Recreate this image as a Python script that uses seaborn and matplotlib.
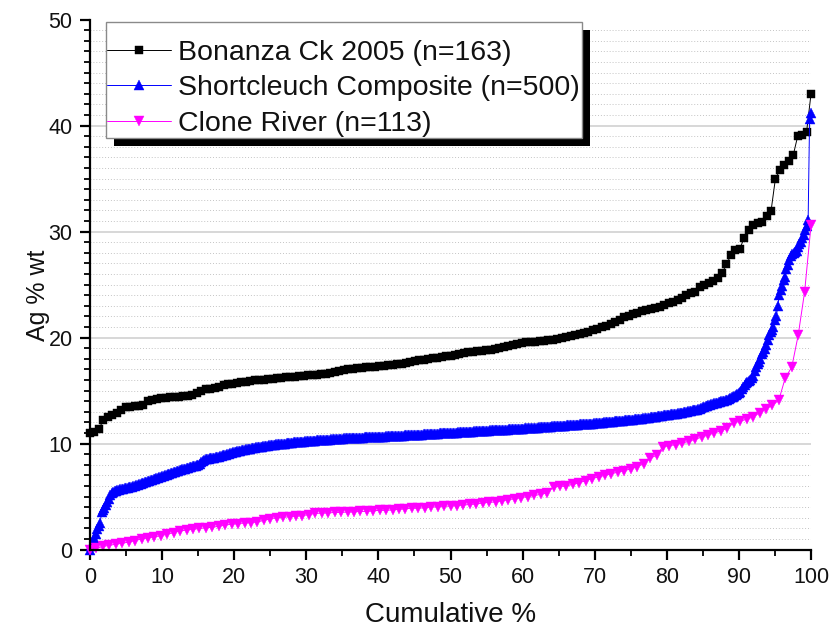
import numpy as np
import pandas as pd
import matplotlib
matplotlib.use("Agg")
import matplotlib.pyplot as plt
import seaborn as sns
from matplotlib.patches import Rectangle
from matplotlib.transforms import IdentityTransform
from matplotlib.ticker import MultipleLocator

# Sorted Ag content (wt %) of each gold population
series_names = ["Bonanza Ck 2005 (n=163)",
                "Shortcleuch Composite (n=500)",
                "Clone River (n=113)"]

bonanza = [
    11.0, 11.1, 11.4, 12.2, 12.5, 12.7, 12.9, 13.2, 13.4, 13.45,
    13.5, 13.55, 13.6, 14.0, 14.1, 14.2, 14.25, 14.3, 14.35, 14.4,
    14.4, 14.45, 14.5, 14.6, 14.8, 15.0, 15.1, 15.15, 15.2, 15.3,
    15.5, 15.6, 15.65, 15.7, 15.8, 15.85, 15.9, 15.95, 16.0, 16.0,
    16.05, 16.1, 16.15, 16.2, 16.25, 16.3, 16.3, 16.35, 16.4, 16.45,
    16.5, 16.5, 16.55, 16.6, 16.65, 16.75, 16.85, 16.9, 17.0, 17.05,
    17.1, 17.15, 17.2, 17.2, 17.25, 17.3, 17.35, 17.4, 17.45, 17.5,
    17.55, 17.6, 17.65, 17.75, 17.85, 17.9, 18.0, 18.05, 18.1, 18.2,
    18.25, 18.3, 18.35, 18.4, 18.5, 18.6, 18.65, 18.7, 18.75, 18.8,
    18.85, 18.9, 19.0, 19.1, 19.2, 19.3, 19.4, 19.5, 19.55, 19.6,
    19.6, 19.65, 19.7, 19.75, 19.8, 19.85, 19.95, 20.05, 20.15, 20.25,
    20.35, 20.45, 20.55, 20.7, 20.85, 21.0, 21.1, 21.3, 21.5, 21.7,
    21.9, 22.05, 22.2, 22.35, 22.5, 22.6, 22.65, 22.75, 22.9, 23.1,
    23.25, 23.4, 23.5, 23.7, 24.0, 24.2, 24.3, 24.8, 25.0, 25.1,
    25.3, 25.6, 26.1, 26.9, 27.8, 28.3, 28.4, 29.4, 30.1, 30.6,
    30.8, 30.9, 31.5, 31.9, 35.0, 35.8, 36.3, 36.7, 37.2, 39.0,
    39.1, 39.4, 43.0,
]

shortcleuch = [
    0.0, 0.3, 0.7, 1.1, 1.5, 1.9, 2.2, 2.5, 3.5, 3.7,
    3.9, 4.2, 4.5, 4.8, 5.1, 5.3, 5.4, 5.5, 5.55, 5.6,
    5.65, 5.68, 5.71, 5.74, 5.77, 5.8, 5.83, 5.86, 5.89, 5.92,
    5.95, 6.0, 6.05, 6.1, 6.15, 6.2, 6.25, 6.3, 6.35, 6.4,
    6.45, 6.5, 6.55, 6.6, 6.65, 6.7, 6.74, 6.78, 6.82, 6.86,
    6.9, 6.95, 7.0, 7.05, 7.1, 7.15, 7.2, 7.25, 7.3, 7.35,
    7.4, 7.44, 7.48, 7.52, 7.56, 7.6, 7.64, 7.68, 7.72, 7.76,
    7.8, 7.84, 7.88, 7.92, 7.96, 8.0, 8.1, 8.25, 8.35, 8.45,
    8.5, 8.53, 8.56, 8.59, 8.62, 8.65, 8.68, 8.71, 8.74, 8.77,
    8.8, 8.84, 8.88, 8.92, 8.96, 9.0, 9.04, 9.08, 9.12, 9.16,
    9.2, 9.23, 9.26, 9.29, 9.32, 9.35, 9.38, 9.41, 9.44, 9.47,
    9.5, 9.53, 9.56, 9.59, 9.62, 9.64, 9.66, 9.68, 9.7, 9.72,
    9.74, 9.76, 9.78, 9.8, 9.82, 9.84, 9.86, 9.88, 9.9, 9.92,
    9.94, 9.96, 9.97, 9.98, 9.99, 10.0, 10.02, 10.04, 10.06, 10.08,
    10.09, 10.1, 10.11, 10.12, 10.13, 10.14, 10.15, 10.16, 10.18, 10.2,
    10.21, 10.22, 10.24, 10.25, 10.26, 10.27, 10.28, 10.29, 10.3, 10.31,
    10.32, 10.33, 10.34, 10.35, 10.36, 10.37, 10.38, 10.39, 10.4, 10.41,
    10.42, 10.43, 10.44, 10.45, 10.46, 10.47, 10.48, 10.48, 10.49, 10.5,
    10.5, 10.51, 10.52, 10.52, 10.53, 10.54, 10.54, 10.55, 10.56, 10.56,
    10.57, 10.58, 10.58, 10.59, 10.6, 10.6, 10.61, 10.62, 10.62, 10.63,
    10.64, 10.64, 10.65, 10.66, 10.66, 10.67, 10.68, 10.68, 10.69, 10.7,
    10.7, 10.71, 10.72, 10.72, 10.73, 10.74, 10.74, 10.75, 10.76, 10.76,
    10.77, 10.78, 10.79, 10.8, 10.8, 10.81, 10.82, 10.83, 10.84, 10.84,
    10.85, 10.86, 10.87, 10.88, 10.88, 10.89, 10.9, 10.91, 10.92, 10.92,
    10.93, 10.94, 10.95, 10.96, 10.96, 10.97, 10.98, 10.99, 11.0, 11.0,
    11.01, 11.02, 11.03, 11.04, 11.04, 11.05, 11.06, 11.07, 11.08, 11.08,
    11.09, 11.1, 11.11, 11.12, 11.12, 11.13, 11.14, 11.15, 11.16, 11.16,
    11.17, 11.18, 11.19, 11.2, 11.2, 11.21, 11.22, 11.23, 11.24, 11.24,
    11.25, 11.26, 11.27, 11.28, 11.28, 11.29, 11.3, 11.31, 11.32, 11.32,
    11.33, 11.34, 11.35, 11.36, 11.36, 11.37, 11.38, 11.39, 11.4, 11.4,
    11.41, 11.42, 11.43, 11.44, 11.45, 11.46, 11.47, 11.48, 11.49, 11.5,
    11.51, 11.52, 11.53, 11.54, 11.55, 11.56, 11.57, 11.58, 11.59, 11.6,
    11.61, 11.62, 11.63, 11.64, 11.65, 11.66, 11.67, 11.68, 11.69, 11.7,
    11.71, 11.72, 11.73, 11.74, 11.75, 11.76, 11.77, 11.78, 11.79, 11.8,
    11.81, 11.82, 11.83, 11.84, 11.85, 11.86, 11.87, 11.88, 11.89, 11.9,
    11.91, 11.92, 11.94, 11.95, 11.96, 11.98, 11.99, 12.0, 12.02, 12.03,
    12.04, 12.06, 12.07, 12.08, 12.1, 12.11, 12.12, 12.14, 12.15, 12.16,
    12.18, 12.19, 12.2, 12.22, 12.23, 12.24, 12.26, 12.27, 12.28, 12.3,
    12.31, 12.33, 12.35, 12.37, 12.39, 12.41, 12.43, 12.45, 12.47, 12.49,
    12.51, 12.53, 12.55, 12.57, 12.59, 12.61, 12.63, 12.65, 12.67, 12.69,
    12.71, 12.73, 12.75, 12.77, 12.79, 12.81, 12.83, 12.85, 12.87, 12.89,
    12.91, 12.94, 12.97, 13.0, 13.03, 13.06, 13.09, 13.12, 13.15, 13.18,
    13.21, 13.25, 13.3, 13.35, 13.4, 13.45, 13.5, 13.55, 13.6, 13.65,
    13.7, 13.74, 13.78, 13.82, 13.86, 13.9, 13.94, 13.98, 14.02, 14.06,
    14.1, 14.15, 14.2, 14.3, 14.35, 14.4, 14.5, 14.6, 14.7, 14.8,
    14.9, 15.1, 15.3, 15.5, 15.7, 15.8, 15.9, 16.0, 16.2, 16.4,
    16.8, 17.2, 17.5, 17.7, 18.0, 18.4, 18.6, 18.9, 19.3, 19.8,
    20.2, 20.5, 20.7, 21.0, 21.7, 22.0, 23.0, 24.0, 24.5, 24.9,
    25.4, 25.7, 26.5, 26.8, 27.3, 27.7, 27.9, 28.0, 28.1, 28.2,
    28.5, 28.8, 29.0, 29.4, 29.7, 30.1, 30.5, 31.1, 40.6, 41.2,
]

clone_river = [
    0.0, 0.1, 0.3, 0.4, 0.5, 0.6, 0.7, 0.85, 1.0, 1.1,
    1.2, 1.3, 1.45, 1.6, 1.75, 1.85, 1.9, 2.0, 2.05, 2.1,
    2.2, 2.3, 2.4, 2.45, 2.5, 2.55, 2.6, 2.75, 2.9, 3.0,
    3.05, 3.1, 3.15, 3.2, 3.3, 3.4, 3.45, 3.45, 3.5, 3.5,
    3.55, 3.55, 3.6, 3.6, 3.65, 3.7, 3.7, 3.75, 3.8, 3.85,
    3.9, 3.9, 3.95, 4.0, 4.05, 4.1, 4.1, 4.15, 4.2, 4.25,
    4.3, 4.4, 4.45, 4.5, 4.6, 4.7, 4.8, 4.9, 5.0, 5.1,
    5.2, 5.35, 5.9, 5.95, 6.0, 6.15, 6.3, 6.5, 6.7, 6.85,
    7.0, 7.15, 7.3, 7.45, 7.6, 7.8, 8.1, 8.6, 8.9, 9.7,
    9.8, 9.9, 10.05, 10.2, 10.4, 10.6, 10.8, 11.0, 11.2, 11.45,
    11.95, 12.1, 12.3, 12.5, 12.9, 13.3, 13.6, 14.1, 16.2, 17.2,
    20.2, 24.3, 30.6,
]

series_values = [bonanza, shortcleuch, clone_river]
series_colors = ["#000000", "#0000FF", "#FF00FF"]
series_markers = ["s", "^", "v"]
marker_sizes = [5.2, 7.0, 6.8]

x_ticks_major, x_ticks_minor = 10, 5
y_ticks_major, y_ticks_minor = 10, 1

sns.set_theme(style="white")
plt.rcParams["font.family"] = ["Liberation Sans", "DejaVu Sans"]

fig = plt.figure(figsize=(8.32, 6.35), dpi=100)
ax = fig.add_axes([0.1082, 0.1346, 0.8666, 0.8346])

for name, vals, col, mk, ms in zip(series_names, series_values,
                                   series_colors, series_markers, marker_sizes):
    n = len(vals)
    frame = pd.DataFrame({
        "Cumulative %": np.arange(n) / (n - 1) * 100.0,
        "Ag % wt": vals,
    })
    sns.lineplot(data=frame, x="Cumulative %", y="Ag % wt", ax=ax,
                 color=col, linewidth=0.7, marker=mk, markersize=ms,
                 markeredgecolor=col, markeredgewidth=0.3,
                 estimator=None, sort=False, label=name, clip_on=False)

ax.set_xlim(0, 100)
ax.set_ylim(0, 50)
ax.xaxis.set_major_locator(MultipleLocator(x_ticks_major))
ax.xaxis.set_minor_locator(MultipleLocator(x_ticks_minor))
ax.yaxis.set_major_locator(MultipleLocator(y_ticks_major))
ax.yaxis.set_minor_locator(MultipleLocator(y_ticks_minor))

# horizontal grid: solid at the major levels, dotted at every unit
ax.grid(False)
ax.set_axisbelow(True)
ax.yaxis.grid(True, which="major", color="#d4d4d4", linewidth=1.3, linestyle="-")
ax.yaxis.grid(True, which="minor", color="#c4c4c4", linewidth=0.7,
              linestyle=(0, (1, 2)))
for loc, tick in zip(ax.yaxis.get_majorticklocs(), ax.yaxis.get_major_ticks()):
    if loc >= 50:
        tick.gridline.set_visible(False)

for side in ("top", "right"):
    ax.spines[side].set_visible(False)
for side in ("left", "bottom"):
    ax.spines[side].set_color("black")
    ax.spines[side].set_linewidth(1.6)

ax.tick_params(which="both", direction="out", bottom=True, left=True,
               color="black")
ax.tick_params(which="major", length=7.5, width=1.6, labelsize=15.5,
               pad=5, labelcolor="#111111")
ax.tick_params(which="minor", length=4, width=1.3)

ax.set_xlabel("Cumulative %", fontsize=20, color="#111111")
ax.set_ylabel("Ag % wt", fontsize=18, color="#111111")
ax.xaxis.set_label_coords(0.5, -0.099)
ax.yaxis.set_label_coords(-0.056, 0.48)

# legend entries; the boxed frame and its drop shadow are drawn separately
handles, labels = ax.get_legend_handles_labels()
leg = ax.legend(handles, labels, loc="upper left",
                bbox_to_anchor=(0.0236, 0.9614), borderaxespad=0,
                fontsize=20.5, frameon=False, borderpad=0,
                handlelength=2.25, handletextpad=0.24,
                labelspacing=0.33, numpoints=1)
leg.set_zorder(6)
for txt in leg.get_texts():
    txt.set_color("#111111")

fig.canvas.draw()
bb = leg.get_window_extent()
pad_l, pad_r, pad_t, pad_b = 1.0, 2.0, 18.0, 1.0
fx0, fy0 = bb.x0 - pad_l, bb.y0 - pad_b
fw, fh = bb.width + pad_l + pad_r, bb.height + pad_t + pad_b
shadow = Rectangle((fx0 + 8, fy0 - 8), fw, fh, transform=IdentityTransform(),
                   facecolor="black", edgecolor="none", zorder=5.0,
                   clip_on=False)
box = Rectangle((fx0, fy0), fw, fh, transform=IdentityTransform(),
                facecolor="white", edgecolor="#8a8a8a", linewidth=1.0,
                zorder=5.5, clip_on=False)
ax.add_artist(shadow)
ax.add_artist(box)

fig.savefig("out.png", dpi=100)
